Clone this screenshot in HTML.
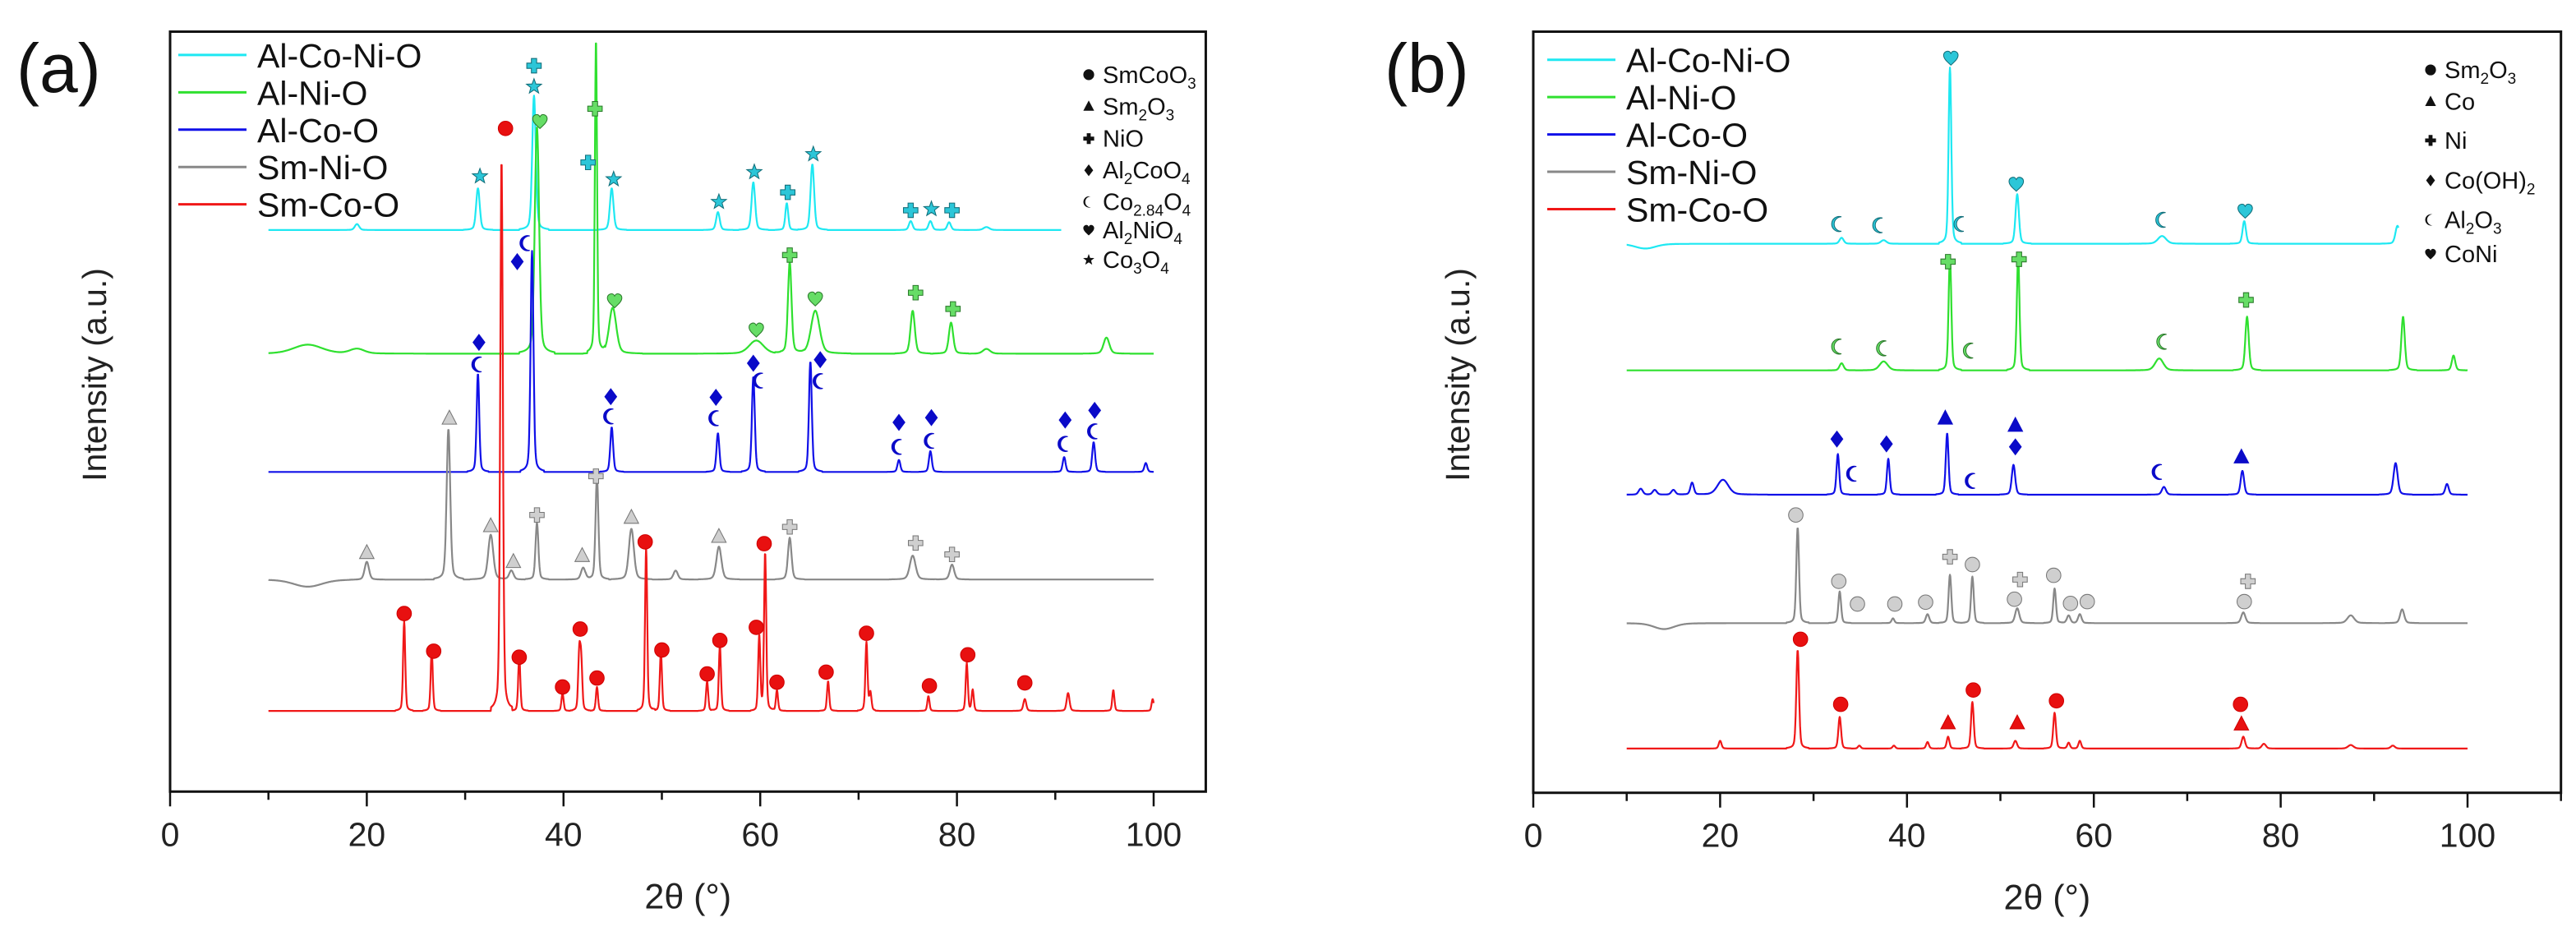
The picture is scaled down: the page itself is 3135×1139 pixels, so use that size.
<!DOCTYPE html>
<html><head><meta charset="utf-8"><style>
html,body{margin:0;padding:0;background:#fff;}
svg{display:block;font-family:"Liberation Sans",sans-serif;}
</style></head><body>
<svg id="fig" width="3135" height="1139" viewBox="0 0 3135 1139" xmlns="http://www.w3.org/2000/svg"></svg>
<script>
// ---------- Data (2θ, intensity above baseline, width) ----------
const seriesNames = ["Al-Co-Ni-O","Al-Ni-O","Al-Co-O","Sm-Ni-O","Sm-Co-O"];
const tickLabels = [0,20,40,60,80,100];
const aBase = [940,733,535,355,135];
const aXmax = [90.6,100,100,100,100];
const aCyanPeaks = [[19,10,0.3],[31.3,70,0.25],[37,225,0.25],[44.9,70,0.25],[55.7,30,0.25],[59.3,80,0.25],[62.7,45,0.2],[65.3,110,0.25],[75.3,15,0.25],[77.3,15,0.25],[79.2,13,0.25],[83,5,0.4]];
const aGreenPeaks = [[14,15,2],[19,8,1],[37.3,380,0.3],[43.3,527,0.15],[45,77,0.5],[59.6,22,1],[63,152,0.25],[65.6,72,0.6],[75.5,72,0.3],[79.4,52,0.3],[83,8,0.5],[95.2,27,0.4]];
const aBluePeaks = [[31.3,165,0.18],[36.8,370,0.2],[44.9,75,0.2],[55.7,65,0.2],[59.3,160,0.2],[65.1,185,0.2],[74.1,20,0.2],[77.3,35,0.2],[90.9,25,0.2],[93.9,50,0.2],[99.2,15,0.2]];
const aGrayPeaks = [[14,-12,2],[20,30,0.3],[28.3,252,0.25],[32.6,75,0.35],[34.7,15,0.3],[37.3,95,0.2],[42,20,0.3],[43.4,170,0.2],[46.9,85,0.35],[51.4,15,0.3],[55.8,55,0.35],[63,70,0.25],[75.5,40,0.4],[79.5,25,0.3]];
const aRedPeaks = [[23.8,150,0.15],[26.6,100,0.15],[33.7,925,0.18],[35.5,90,0.15],[39.9,30,0.15],[41.6,95,0.15],[41.8,80,0.15],[43.4,40,0.15],[48.4,275,0.15],[49.9,100,0.15],[54.6,50,0.15],[55.9,110,0.15],[59.9,125,0.15],[60.5,265,0.15],[61.7,35,0.15],[66.9,50,0.15],[70.8,115,0.15],[71.2,30,0.15],[77.1,25,0.15],[81,80,0.15],[81.6,35,0.15],[86.9,20,0.2],[91.3,30,0.2],[95.9,35,0.15],[99.9,20,0.15]];
const bBase = [917,705,497,282,72];
const bXmax = [92.6,100,100,100,100];
const bCyanPeaks = [[12,-8,1.5],[33,10,0.3],[37.5,6,0.4],[44.6,295,0.2],[51.8,83,0.25],[67.3,13,0.6],[76.1,38,0.25],[92.5,30,0.3]];
const bGreenPeaks = [[33,12,0.3],[37.5,15,0.6],[44.6,190,0.2],[51.9,190,0.2],[67,20,0.6],[76.4,90,0.25],[93.1,90,0.25],[98.5,25,0.25]];
const bBluePeaks = [[11.5,10,0.3],[13,8,0.3],[15,8,0.3],[17,20,0.25],[20.3,25,0.8],[32.6,68,0.2],[38,60,0.2],[44.3,103,0.2],[51.4,50,0.25],[67.5,13,0.3],[75.9,40,0.25],[92.3,53,0.3],[97.8,18,0.25]];
const bGrayPeaks = [[14,-10,1.5],[28.3,160,0.2],[32.8,53,0.2],[38.5,8,0.2],[42.2,15,0.25],[44.6,81,0.2],[47,78,0.2],[51.8,25,0.3],[55.8,58,0.2],[57.3,13,0.25],[58.5,15,0.25],[76,18,0.3],[87.5,13,0.5],[93,23,0.3]];
const bRedPeaks = [[20,13,0.2],[28.3,165,0.2],[32.8,53,0.2],[34.9,5,0.2],[38.6,5,0.2],[42.2,11,0.2],[44.4,20,0.2],[47,78,0.2],[51.6,13,0.25],[55.8,60,0.2],[57.3,10,0.2],[58.5,13,0.2],[76,20,0.25],[78.2,8,0.3],[87.5,6,0.4],[92,5,0.3]];
// markers [shape, 2θ, intensity]
const aCyanMarks = [["plus",37,1215],["star",37,1180],["star",31.5,1030],["plus",42.5,1053],["star",45.1,1025],["star",55.8,987],["star",59.4,1037],["plus",62.8,1003],["star",65.4,1067],["plus",75.3,973],["star",77.4,975],["plus",79.5,973]];
const aGreenMarks = [["heart",37.6,1122],["plus",43.2,1143],["heart",45.2,822],["heart",59.6,773],["plus",63,898],["heart",65.6,825],["plus",75.8,835],["plus",79.6,808]];
const aBlueMarks = [["diamond",35.3,887],["moon",36.3,918],["diamond",31.4,752],["moon",31.4,715],["diamond",44.8,661],["moon",44.8,628],["diamond",55.5,660],["moon",55.5,625],["diamond",59.3,717],["moon",60,688],["diamond",66.1,723],["moon",66.1,687],["diamond",74.1,618],["moon",74.1,577],["diamond",77.4,626],["moon",77.4,587],["diamond",91,622],["moon",91,582],["diamond",94,638],["moon",94,603]];
const aGrayMarks = [["tri",28.4,625],["tri",20,400],["tri",32.6,445],["tri",34.9,385],["plus",37.3,463],["tri",41.9,395],["plus",43.3,528],["tri",46.9,459],["tri",55.8,427],["plus",63,443],["plus",75.8,416],["plus",79.5,397]];
const aRedMarks = [["circle",34.1,1110],["circle",23.8,298],["circle",26.8,235],["circle",35.5,225],["circle",39.9,175],["circle",41.7,272],["circle",43.4,190],["circle",48.3,418],["circle",50,237],["circle",54.6,197],["circle",55.9,253],["circle",59.6,275],["circle",60.4,415],["circle",61.7,183],["circle",66.7,200],["circle",70.8,265],["circle",77.2,177],["circle",81.1,229],["circle",86.9,182]];
const bCyanMarks = [["heart",44.7,1228],["heart",51.7,1017],["heart",76.2,972],["moon",32.7,950],["moon",37.1,948],["moon",45.8,950],["moon",67.4,957]];
const bGreenMarks = [["plus",44.4,887],["plus",52,891],["plus",76.3,823],["moon",32.7,745],["moon",37.5,742],["moon",46.8,738],["moon",67.5,753]];
const bBlueMarks = [["diamond",32.5,590],["diamond",37.8,582],["tri",44.1,625],["tri",51.6,613],["diamond",51.6,577],["moon",34.3,532],["moon",47,520],["moon",67,535],["tri",75.8,560]];
const bGrayMarks = [["circle",28.1,463],["circle",32.7,352],["circle",34.7,314],["circle",38.7,314],["circle",42,317],["plus",44.6,393],["circle",47,380],["plus",52.1,355],["circle",51.5,322],["circle",55.7,362],["circle",57.5,315],["circle",59.3,318],["plus",76.5,352],["circle",76.1,318]];
const bRedMarks = [["circle",28.6,255],["circle",32.9,146],["tri",44.4,115],["circle",47.1,170],["tri",51.8,115],["circle",56,152],["circle",75.7,146],["tri",75.8,113]];

const lineColors = ["#1ee8f2","#2fe02f","#1010e8","#888888","#f01818"];
const markFill = ["#2cc6d8","#66dd66","#0a0ac8","#cfcfcf","#e81010"];
const markStroke = ["#126f7a","#2b7a2b","#0a0ac8","#777","#d00000"];
const KY = 0.727;

const NS="http://www.w3.org/2000/svg";
const svg=document.getElementById('fig');
function mk(tag,attrs,parent){const e=document.createElementNS(NS,tag);for(const k in attrs)e.setAttribute(k,attrs[k]);(parent||svg).appendChild(e);return e;}

function shapePath(s){
  switch(s){
    case "circle": return "M-11,0a11,11 0 1,0 22,0a11,11 0 1,0 -22,0Z";
    case "tri": return "M0,-12L11,9L-11,9Z";
    case "plus": return "M-4,-11H4V-4H11V4H4V11H-4V4H-11V-4H-4Z";
    case "diamond": return "M0,-12L9,0L0,12L-9,0Z";
    case "moon": return "M4,-11A11.5,11.5 0 1,0 4,11A9,9 0 1,1 4,-11Z";
    case "heart": return "M0,11C-4,7 -11,2 -11,-4C-11,-9 -6,-11 -3,-10C-1,-9 0,-7 0,-6C0,-7 1,-9 3,-10C6,-11 11,-9 11,-4C11,2 4,7 0,11Z";
    case "star": {let p="";for(let i=0;i<10;i++){const r=i%2?5:12;const a=-Math.PI/2+i*Math.PI/5;p+=(i?"L":"M")+(r*Math.cos(a)).toFixed(1)+","+(r*Math.sin(a)).toFixed(1);}return p+"Z";}
  }
}

function panel(opt){
  const {x0,x1,xmax,frameBottom,label,labelX,bases,xmaxes,peaks,marks,legX,legY,symX,symY,symItems,pname}=opt;
  const B=1325;
  const top=53*KY, bottom=frameBottom*KY;
  const xS=v=>x0+(v)*(x1-x0)/100;
  const yS=v=>KY*(B-v);
  const g=mk('g',{});
  
  
  for(let s=0;s<5;s++){
    let d="";
    for(let t=10;t<=xmaxes[s]+1e-9;t+=0.04){
      let v=bases[s];
      for(const p of peaks[s]){const z=(t-p[0])/p[2];v+=p[1]*(Math.abs(z)>6?0:(0.75*Math.exp(-z*z)+0.25/(1+z*z)));}
      d+=(d?"L":"M")+xS(t).toFixed(1)+","+yS(v).toFixed(1);
    }
    const path=mk('path',{d:d,fill:"none",stroke:lineColors[s],"stroke-width":2.2,"stroke-linejoin":"round"},g);
    
    
  }
  for(let s=0;s<5;s++){
    for(const m of marks[s]){
      const e=mk('path',{d:shapePath(m[0]),transform:`translate(${xS(m[1]).toFixed(1)},${yS(m[2]).toFixed(1)}) scale(0.8)`,fill:markFill[s],stroke:markStroke[s],"stroke-width":1.3},g);
      
      
    }
  }
  const fr=mk('rect',{x:x0,y:top,width:xS(xmax)-x0,height:bottom-top,fill:"none",stroke:"#111","stroke-width":3},g);
  
  
  for(let v=0;v<=xmax;v+=10){
    const major=v%20===0;
    mk('line',{x1:xS(v),x2:xS(v),y1:bottom,y2:bottom+(major?18:10),stroke:"#111","stroke-width":2.5},g);
  }
  for(const v of tickLabels){
    const t=mk('text',{x:xS(v),y:bottom+66,"font-size":41,"text-anchor":"middle",fill:"#222"},g);
    t.textContent=v;
    
    
  }
  const xt=mk('text',{x:(x0+xS(xmax))/2,y:bottom+142,"font-size":43,"text-anchor":"middle",fill:"#222"},g);
  xt.textContent="2θ (°)";
  
  
  const yt=mk('text',{x:0,y:0,"font-size":41,"text-anchor":"middle",fill:"#222",transform:`translate(${x0-78},${456}) rotate(-90)`},g);
  yt.textContent="Intensity (a.u.)";
  
  
  const pl=mk('text',{x:labelX,y:112,"font-size":84,fill:"#111"},g);
  pl.textContent=label;
  
  
  for(let s=0;s<5;s++){
    const ly=(legY+s*62.5)*KY;
    const le=mk('g',{},g);
    
    
    mk('line',{x1:legX,x2:legX+83,y1:ly,y2:ly,stroke:lineColors[s],"stroke-width":3},le);
    const tt=mk('text',{x:legX+96,y:ly+15,"font-size":41,fill:"#111"},le);
    tt.textContent=seriesNames[s];
  }
  symItems.forEach((it,i)=>{
    const sy=symY[i]*KY;
    const se=mk('g',{},g);
    
    
    mk('path',{d:shapePath(it[0]),transform:`translate(${symX},${sy}) scale(0.6)`,fill:"#111"},se);
    const tx=mk('text',{x:symX+17,y:sy+10,"font-size":29,fill:"#111"},se);
    it[1].forEach(part=>{
      const ts=mk('tspan',{},tx);
      if(part[1]){ts.setAttribute('font-size',19);ts.setAttribute('dy',7);}
      else if(part[2]){ts.setAttribute('dy',-7);}
      ts.textContent=part[0];
    });
  });
}

panel({pname:"panel-a",x0:207,x1:1404,xmax:105.3,frameBottom:1325,label:"(a)",labelX:20,
  bases:aBase,xmaxes:aXmax,peaks:[aCyanPeaks,aGreenPeaks,aBluePeaks,aGrayPeaks,aRedPeaks],
  marks:[aCyanMarks,aGreenMarks,aBlueMarks,aGrayMarks,aRedMarks],legX:217,legY:92,symX:1325,
  symY:[125,178,232,285,338,385,435],
  symItems:[["circle",[["SmCoO"],["3",1],["",0,1]]],["tri",[["Sm"],["2",1],["O",0,1],["3",1]]],["plus",[["NiO"]]],["diamond",[["Al"],["2",1],["CoO",0,1],["4",1]]],["moon",[["Co"],["2.84",1],["O",0,1],["4",1]]],["heart",[["Al"],["2",1],["NiO",0,1],["4",1]]],["star",[["Co"],["3",1],["O",0,1],["4",1]]]]});

panel({pname:"panel-b",x0:1866,x1:3003,xmax:110,frameBottom:1327,label:"(b)",labelX:1685,
  bases:bBase,xmaxes:bXmax,peaks:[bCyanPeaks,bGreenPeaks,bBluePeaks,bGrayPeaks,bRedPeaks],
  marks:[bCyanMarks,bGreenMarks,bBlueMarks,bGrayMarks,bRedMarks],legX:1883,legY:100,symX:2958,
  symY:[117,170,235,302,368,425],
  symItems:[["circle",[["Sm"],["2",1],["O",0,1],["3",1]]],["tri",[["Co"]]],["plus",[["Ni"]]],["diamond",[["Co(OH)"],["2",1]]],["moon",[["Al"],["2",1],["O",0,1],["3",1]]],["heart",[["CoNi"]]]]});
</script>
</body></html>
